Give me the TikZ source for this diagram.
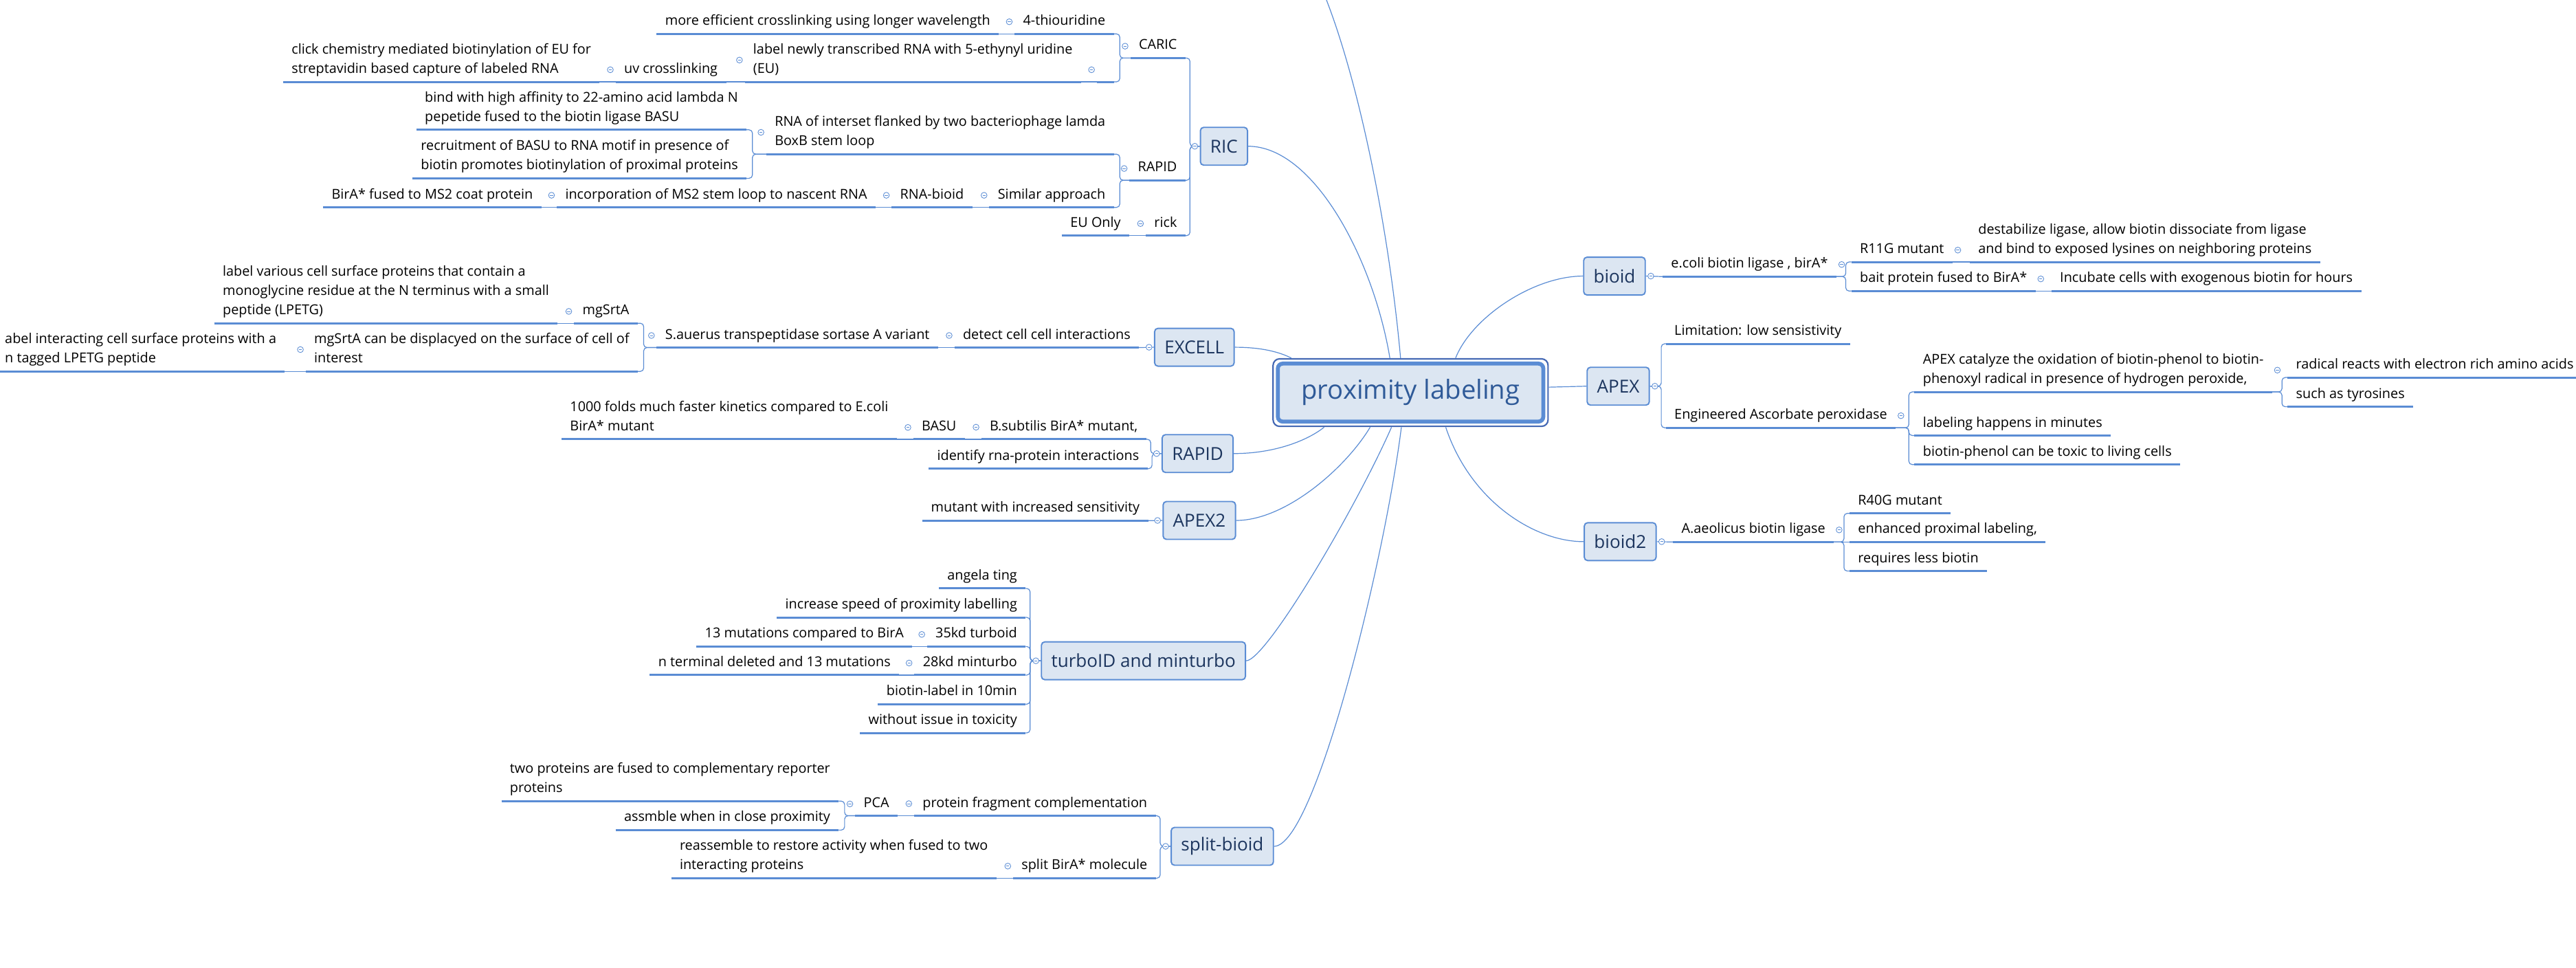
\documentclass[tikz,border=0pt]{standalone}
\usepackage{fontspec}
\setmainfont{Open Sans}
\usetikzlibrary{calc}

\definecolor{linkblue}{HTML}{5A8CD4}
\definecolor{boxfill}{HTML}{DCE6F2}
\definecolor{framedark}{HTML}{4468B4}
\definecolor{navytext}{HTML}{1C355E}
\definecolor{roottext}{HTML}{2F5A98}

\newcommand{\topicsize}{\fontsize{8.3}{11.8}\selectfont}
\newcommand{\branchsize}{\fontsize{10.9}{13}\selectfont}
\newcommand{\rootsize}{\fontsize{16}{19}\selectfont}

\begin{document}
\begin{tikzpicture}[x=1pt, y=-1pt,
    topic/.style={font=\topicsize, align=left, inner xsep=5pt, inner ysep=3pt,
      execute at end node={\vphantom{g}}},
    lefttopic/.style={topic, anchor=south east},
    righttopic/.style={topic, anchor=south west},
    branch/.style={draw=linkblue, line width=0.8pt, fill=boxfill, rounded corners=2pt,
      font=\branchsize, text=navytext, inner xsep=6pt, inner ysep=0pt, minimum height=23pt},
    rootbox/.style={draw=linkblue, line width=2.4pt, fill=boxfill, rounded corners=3pt,
      font=\rootsize, text=roottext, minimum width=161.6pt, minimum height=35.3pt},
    rootframe/.style={draw=framedark, line width=0.9pt, rounded corners=4pt},
    uline/.style={draw=linkblue, line width=1.25pt},
    link/.style={draw=linkblue, line width=0.5pt, rounded corners=2pt},
    curve/.style={draw=linkblue, line width=0.5pt},
    fold/.style={circle, draw=linkblue, line width=0.35pt, fill=white, inner sep=0pt,
      minimum size=3.6pt, path picture={\draw[linkblue, line width=0.3pt]
        ([xshift=-0.9pt]path picture bounding box.center) --
        ([xshift=0.9pt]path picture bounding box.center);}}]
  \useasboundingbox (0,0) rectangle (1568,589);
  \fill[white] (0,0) rectangle (1568,589);
  \clip (0,0) rectangle (1568,589);

  \node[rootbox] (root) at (858.6,238.9) {proximity labeling};
  \draw[rootframe] ([shift={(-1.7,-1.7)}]root.north west) rectangle ([shift={(1.7,1.7)}]root.south east);

  \node[branch] (ric) at (745,89) {RIC};
  \node[branch] (excell) at (727,211.3) {EXCELL};
  \node[branch] (rapid) at (729,276) {RAPID};
  \node[branch] (apextwo) at (730,316.7) {APEX2};
  \node[branch] (turbo) at (696,402.1) {turboID and minturbo};
  \node[branch] (split) at (744,515) {split-bioid};
  \node[branch] (bioid) at (982.7,168) {bioid};
  \node[branch] (apex) at (985,235) {APEX};
  \node[branch] (bioidtwo) at (986.2,329.6) {bioid2};
  \coordinate (offtop) at (796,-25);

  % RIC
  \node[lefttopic] (caric) at (721.6,35.3) {CARIC};
  \node[lefttopic] (thio) at (678,20.6) {4-thiouridine};
  \node[lefttopic] (moreeff) at (608,20.6) {more efficient crosslinking using longer wavelength};
  \node[lefttopic, minimum width=10pt] (eu0) at (678,49.8) {\vphantom{l}};
  \node[lefttopic] (lnt) at (658,49.8) {label newly transcribed RNA with 5-ethynyl uridine\\(EU)};
  \node[lefttopic] (uvx) at (442,49.8) {uv crosslinking};
  \node[lefttopic] (click) at (365,49.8) {click chemistry mediated biotinylation of EU for\\streptavidin based capture of labeled RNA};
  \node[lefttopic] (rapidr) at (721.6,109.7) {RAPID};
  \node[lefttopic] (boxb) at (678,93.8) {RNA of interset flanked by two bacteriophage lamda\\BoxB stem loop};
  \node[lefttopic] (lambdan) at (454.4,79) {bind with high affinity to 22-amino acid lambda N\\pepetide fused to the biotin ligase BASU};
  \node[lefttopic] (recruit) at (454.4,108.5) {recruitment of BASU to RNA motif in presence of\\biotin promotes biotinylation of proximal proteins};
  \node[lefttopic] (similar) at (678,126.2) {Similar approach};
  \node[lefttopic] (rnabioid) at (591.8,126.2) {RNA-bioid};
  \node[lefttopic] (ms2loop) at (533,126.2) {incorporation of MS2 stem loop to nascent RNA};
  \node[lefttopic] (ms2coat) at (329.5,126.2) {BirA* fused to MS2 coat protein};
  \node[lefttopic] (rick) at (721.6,143.4) {rick};
  \node[lefttopic] (euonly) at (687.4,143.4) {EU Only};

  % EXCELL
  \node[lefttopic] (detect) at (693.3,211.5) {detect cell cell interactions};
  \node[lefttopic] (sortase) at (571,211.5) {S.auerus transpeptidase sortase A variant};
  \node[lefttopic] (mgsrta) at (388.2,196.7) {mgSrtA};
  \node[lefttopic] (monogly) at (339.4,196.7) {label various cell surface proteins that contain a\\monoglycine residue at the N terminus with a small\\peptide (LPETG)};
  \node[lefttopic] (display) at (388.2,226) {mgSrtA can be displacyed on the surface of cell of\\interest};
  \node[lefttopic] (lpetg) at (173.4,226) {abel interacting cell surface proteins with a\\n tagged LPETG peptide};

  % RAPID
  \node[lefttopic] (bsub) at (697.7,267.3) {B.subtilis BirA* mutant,};
  \node[lefttopic] (basu) at (587.3,267.3) {BASU};
  \node[lefttopic] (kinetics) at (545.9,267.3) {1000 folds much faster kinetics compared to E.coli\\BirA* mutant};
  \node[lefttopic] (rnaprot) at (698.5,285.2) {identify rna-protein interactions};

  % APEX2
  \node[lefttopic] (sens) at (698.9,316.8) {mutant with increased sensitivity};

  % turboID
  \node[lefttopic] (ting) at (624.3,358.1) {angela ting};
  \node[lefttopic] (speed) at (624.3,375.7) {increase speed of proximity labelling};
  \node[lefttopic] (turbo35) at (624.3,393.4) {35kd turboid};
  \node[lefttopic] (mut13) at (555.3,393.4) {13 mutations compared to BirA};
  \node[lefttopic] (mini28) at (624.3,410.8) {28kd minturbo};
  \node[lefttopic] (nterm) at (547.3,410.8) {n terminal deleted and 13 mutations};
  \node[lefttopic] (tenmin) at (624.3,428.5) {biotin-label in 10min};
  \node[lefttopic] (toxic) at (624.3,446) {without issue in toxicity};

  % split-bioid
  \node[lefttopic] (pfc) at (703.5,496.4) {protein fragment complementation};
  \node[lefttopic] (pca) at (546.4,496.4) {PCA};
  \node[lefttopic] (reporter) at (510.5,487.5) {two proteins are fused to complementary reporter\\proteins};
  \node[lefttopic] (assmble) at (510.5,505.1) {assmble when in close proximity};
  \node[lefttopic] (splitbira) at (703.5,534.4) {split BirA* molecule};
  \node[lefttopic] (reassemble) at (606.5,534.4) {reassemble to restore activity when fused to two\\interacting proteins};

  % bioid, APEX, bioid2
  \node[righttopic] (ecoli) at (1012,168.3) {e.coli biotin ligase , birA*};
  \node[righttopic] (r11g) at (1126.9,159.4) {R11G mutant};
  \node[righttopic] (destab) at (1199,159.4) {destabilize ligase, allow biotin dissociate from ligase\\and bind to exposed lysines on neighboring proteins};
  \node[righttopic] (bait) at (1126.9,177.1) {bait protein fused to BirA*};
  \node[righttopic] (incub) at (1248.7,177.1) {Incubate cells with exogenous biotin for hours};
  \node[righttopic] (limit) at (1014,209.2) {Limitation: low sensistivity};
  \node[righttopic] (ascorb) at (1014,260.3) {Engineered Ascorbate peroxidase};
  \node[righttopic] (oxid) at (1165.3,238.5) {APEX catalyze the oxidation of biotin-phenol to biotin-\\phenoxyl radical in presence of hydrogen peroxide,};
  \node[righttopic] (radical) at (1392.4,229.7) {radical reacts with electron rich amino acids};
  \node[righttopic] (tyros) at (1392.4,247.5) {such as tyrosines};
  \node[righttopic] (minutes) at (1165.3,265) {labeling happens in minutes};
  \node[righttopic] (toxcell) at (1165.3,282.7) {biotin-phenol can be toxic to living cells};
  \node[righttopic] (aeol) at (1018.3,329.8) {A.aeolicus biotin ligase};
  \node[righttopic] (r40g) at (1125.8,312.4) {R40G mutant};
  \node[righttopic] (enh) at (1125.8,329.8) {enhanced proximal labeling,};
  \node[righttopic] (lessb) at (1125.8,347.5) {requires less biotin};

  \foreach \n in {caric, thio, moreeff, eu0, lnt, uvx, click, rapidr, boxb, lambdan, recruit,
      similar, rnabioid, ms2loop, ms2coat, rick, euonly, detect, sortase, mgsrta, monogly,
      display, lpetg, bsub, basu, kinetics, rnaprot, sens, ting, speed, turbo35, mut13, mini28,
      nterm, tenmin, toxic, pfc, pca, reporter, assmble, splitbira, reassemble, ecoli, r11g,
      destab, bait, incub, limit, ascorb, oxid, radical, tyros, minutes, toxcell, aeol, r40g,
      enh, lessb}
    \draw[uline] (\n.south west) -- (\n.south east);

  \foreach \src/\dst in {ric/caric, ric/rapidr, ric/rick, rapid/bsub, rapid/rnaprot,
      turbo/ting, turbo/speed, turbo/turbo35, turbo/mini28, turbo/tenmin, turbo/toxic,
      split/pfc, split/splitbira}
    \draw[link] (\src.west) -| ([shift={(2.7,0)}]\dst.south east) -- (\dst.south east);
  \foreach \src/\dst in {caric/thio, caric/eu0, rapidr/boxb, rapidr/similar, boxb/lambdan,
      boxb/recruit, sortase/mgsrta, sortase/display, pca/reporter, pca/assmble}
    \draw[link] (\src.south west) -| ([shift={(3.6,0)}]\dst.south east) -- (\dst.south east);
  \foreach \dst in {limit, ascorb}
    \draw[link] (apex.east) -| ([shift={(-2.8,0)}]\dst.south west) -- (\dst.south west);
  \foreach \src/\dst in {ecoli/r11g, ecoli/bait, ascorb/oxid, ascorb/minutes, ascorb/toxcell,
      oxid/radical, oxid/tyros, aeol/r40g, aeol/lessb}
    \draw[link] (\src.south east) -| ([shift={(-3.4,0)}]\dst.south west) -- (\dst.south west);
  \foreach \src/\dst in {thio/moreeff, eu0/lnt, lnt/uvx, uvx/click, similar/rnabioid,
      rnabioid/ms2loop, ms2loop/ms2coat, rick/euonly, detect/sortase, mgsrta/monogly,
      display/lpetg, bsub/basu, basu/kinetics, turbo35/mut13, mini28/nterm, pfc/pca,
      splitbira/reassemble}
    \draw[link] (\src.south west) -- (\dst.south east);
  \foreach \src/\dst in {r11g/destab, bait/incub, aeol/enh}
    \draw[link] (\src.south east) -- (\dst.south west);
  \draw[link] (excell.west) -- (detect.south east);
  \draw[link] (apextwo.west) -- (sens.south east);
  \draw[link] (bioid.east) -- (ecoli.south west);
  \draw[link] (bioidtwo.east) -- (aeol.south west);

  \draw[curve] (ric.east) .. controls +(40,0) and +(-10,-60) .. ([shift={(-12.6,-2.2)}]root.north);
  \draw[curve] (offtop) .. controls +(25,45) and +(-8,-90) .. ([shift={(-6.1,-2.2)}]root.north);
  \draw[curve] (excell.east) .. controls +(12,0) and +(-10,-5) .. ([shift={(-72.6,-2.2)}]root.north);
  \draw[curve] ([shift={(27.4,-2.2)}]root.north) .. controls +(10,-25) and +(-30,0) .. (bioid.west);
  \draw[curve] ([shift={(2.2,-3.3)}]root.east) -- (apex.west);
  \draw[curve] (rapid.east) .. controls +(25,0) and +(-10,8) .. ([shift={(-52.6,2.2)}]root.south);
  \draw[curve] (apextwo.east) .. controls +(30,0) and +(-15,25) .. ([shift={(-24.6,2.2)}]root.south);
  \draw[curve] (turbo.east) .. controls +(12,0) and +(-22,50) .. ([shift={(-11.6,2.2)}]root.south);
  \draw[curve] (split.east) .. controls +(25,0) and +(-10,80) .. ([shift={(-5.6,2.2)}]root.south);
  \draw[curve] ([shift={(21.4,2.2)}]root.south) .. controls +(15,45) and +(-30,0) .. (bioidtwo.west);

  \foreach \n in {ric, excell, rapid, apextwo, turbo, split}
    \node[fold] (f\n) at ([shift={(-3,0)}]\n.west) {};
  \foreach \n in {bioid, apex, bioidtwo}
    \node[fold] (f\n) at ([shift={(3,0)}]\n.east) {};
  \foreach \n in {caric, thio, eu0, lnt, uvx, rapidr, boxb, similar, rnabioid, ms2loop, rick,
      detect, sortase, mgsrta, display, bsub, basu, turbo35, mini28, pfc, pca, splitbira}
    \node[fold] (f\n) at ([shift={(-3.2,0)}]\n.west) {};
  \foreach \n in {ecoli, r11g, bait, ascorb, oxid, aeol}
    \node[fold] (f\n) at ([shift={(3.2,0)}]\n.east) {};
\end{tikzpicture}
\end{document}
